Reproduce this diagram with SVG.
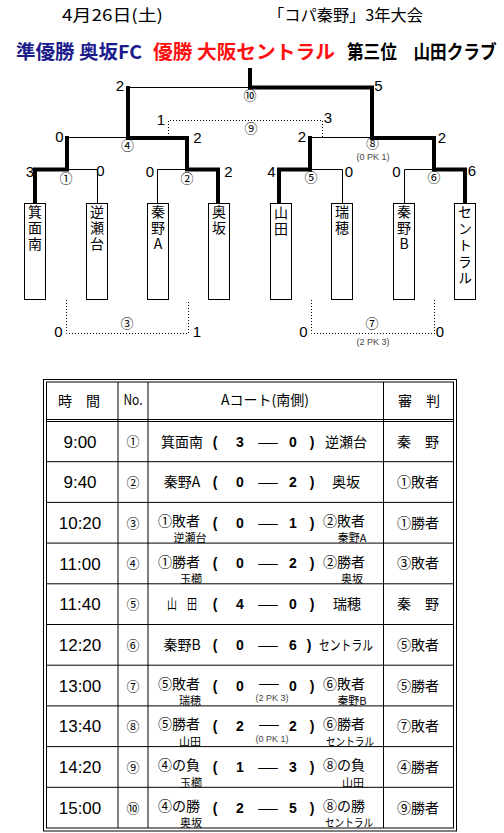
<svg xmlns="http://www.w3.org/2000/svg" width="504" height="833" viewBox="0 0 504 833">
<style>
.tk{fill:none;stroke:#000;stroke-width:4;stroke-linejoin:miter}
.tn{fill:none;stroke:#000;stroke-width:1}
.dt{fill:none;stroke:#000;stroke-width:1;stroke-dasharray:1 2}
.box{fill:#fff;stroke:#000;stroke-width:1}
.sc{font-family:"Liberation Sans Narrow","Liberation Sans",sans-serif;font-size:15px;text-anchor:middle;fill:#000}
.cn{font-family:"Noto Sans CJK JP",sans-serif;font-size:13px;text-anchor:middle;fill:#000}
.pk{font-family:"Liberation Sans Narrow","Liberation Sans",sans-serif;font-size:9px;text-anchor:middle;fill:#444}
.vt{font-family:"Noto Sans CJK JP",sans-serif;font-size:14px;fill:#000;writing-mode:vertical-rl;text-orientation:upright;letter-spacing:2px}
.ti{font-family:"Noto Sans CJK JP",sans-serif;font-size:16px;fill:#000}
.hd{font-family:"Noto Sans CJK JP",sans-serif;font-size:19px;font-weight:bold}
.tl{fill:none;stroke:#000;stroke-width:1}
.tm{font-family:"Liberation Sans",sans-serif;font-size:17px;text-anchor:middle;fill:#000}
.j{font-family:"Noto Sans CJK JP",sans-serif;font-size:14px;text-anchor:middle;fill:#000}
.s{font-family:"Noto Sans CJK JP",sans-serif;font-size:11px;text-anchor:middle;fill:#000}
.d{font-family:"Liberation Sans",sans-serif;font-size:14px;font-weight:bold;text-anchor:middle;fill:#000}
.no{font-family:"Noto Sans CJK JP",sans-serif;font-size:13px;text-anchor:middle;fill:#000}
</style>

<g id="title">
<text class="ti" x="62" y="21" textLength="101" lengthAdjust="spacingAndGlyphs">4月26日(土)</text>
<text class="ti" x="268" y="21" textLength="155" lengthAdjust="spacingAndGlyphs">「コパ秦野」3年大会</text>
<text class="hd" x="16" y="59" fill="#1c1c8c" textLength="126" lengthAdjust="spacingAndGlyphs">準優勝 奥坂FC</text>
<text class="hd" x="153" y="59" fill="#ff1010" textLength="182" lengthAdjust="spacingAndGlyphs">優勝 大阪セントラル</text>
<text class="hd" transform="translate(347,59) scale(0.875,1)" x="0" y="0" fill="#000">第三位　山田クラブ</text>
</g>

<g id="connectors">
<path class="tn" d="M128,87.5 H250"/>
<path class="tn" d="M67,137.5 H128"/>
<path class="tn" d="M310,137.5 H372"/>
<path class="tn" d="M67,169.5 H97.5 V203"/>
<path class="tn" d="M157.5,203 V169.5 H187"/>
<path class="tn" d="M310,169.5 H342.5 V203"/>
<path class="tn" d="M404.5,203 V169.5 H434"/>
<path class="tk" d="M250,68 V87.5 H372 V138 H434 V169.5 H465 V203"/>
<path class="tk" d="M128,86 V138 H187 V169.5 H218 V203"/>
<path class="tk" d="M35,203 V169.5 H67 V136"/>
<path class="tk" d="M279,203 V169.5 H310 V136"/>
<path class="dt" d="M168.5,137 V120.5 H322.5 V137"/>
<path class="dt" d="M66.5,300 V333.5 H188.5 V300"/>
<path class="dt" d="M311.5,300 V333.5 H434.5 V300"/>
</g>

<g id="match-labels">
<text class="cn" x="250" y="100">⑩</text>
<text class="cn" x="251" y="132.5">⑨</text>
<text class="cn" x="127.5" y="149.5">④</text>
<text class="cn" x="372.5" y="147.5">⑧</text>
<text class="pk" x="373" y="160">(0 PK 1)</text>
<text class="cn" x="66" y="182.5">①</text>
<text class="cn" x="187" y="182.5">②</text>
<text class="cn" x="311" y="181.5">⑤</text>
<text class="cn" x="434" y="181.5">⑥</text>
<text class="cn" x="127" y="327.5">③</text>
<text class="cn" x="372" y="327.5">⑦</text>
<text class="pk" x="373" y="345">(2 PK 3)</text>
</g>

<g id="scores">
<text class="sc" x="120" y="91">2</text>
<text class="sc" x="378.5" y="91">5</text>
<text class="sc" x="161" y="125">1</text>
<text class="sc" x="328" y="123">3</text>
<text class="sc" x="59.5" y="142">0</text>
<text class="sc" x="197.5" y="143">2</text>
<text class="sc" x="302" y="142">2</text>
<text class="sc" x="442" y="143">2</text>
<text class="sc" x="30" y="177">3</text>
<text class="sc" x="100.5" y="176">0</text>
<text class="sc" x="150" y="177">0</text>
<text class="sc" x="228.5" y="177">2</text>
<text class="sc" x="271.5" y="177">4</text>
<text class="sc" x="349" y="177">0</text>
<text class="sc" x="396.5" y="177">0</text>
<text class="sc" x="472" y="176">6</text>
<text class="sc" x="58.5" y="337">0</text>
<text class="sc" x="197" y="337">1</text>
<text class="sc" x="303.5" y="337">0</text>
<text class="sc" x="440" y="337">0</text>
</g>

<g id="team-minoominami">
<rect class="box" x="24.5" y="203.5" width="21" height="96"/>
<text class="vt" x="35" y="205">箕面南</text>
</g>
<g id="team-sakasedai">
<rect class="box" x="86.5" y="203.5" width="21" height="96"/>
<text class="vt" x="97" y="205">逆瀬台</text>
</g>
<g id="team-hatanoA">
<rect class="box" x="147.5" y="203.5" width="21" height="96"/>
<text class="vt" x="158" y="205">秦野A</text>
</g>
<g id="team-okusaka">
<rect class="box" x="208.5" y="203.5" width="21" height="96"/>
<text class="vt" x="219" y="205">奥坂</text>
</g>
<g id="team-yamada">
<rect class="box" x="270.5" y="203.5" width="21" height="96"/>
<text class="vt" x="281" y="206">山田</text>
</g>
<g id="team-mizuho">
<rect class="box" x="331.5" y="203.5" width="21" height="96"/>
<text class="vt" x="342" y="205">瑞穂</text>
</g>
<g id="team-hatanoB">
<rect class="box" x="393.5" y="203.5" width="21" height="96"/>
<text class="vt" x="404" y="205">秦野B</text>
</g>
<g id="team-central">
<rect class="box" x="454.5" y="203.5" width="21" height="96"/>
<text class="vt" x="465" y="205" style="letter-spacing:2.5px">セントラル</text>
</g>

<g id="schedule-table">
<rect class="tl" x="43.5" y="379.5" width="413" height="451.5"/>
<rect class="tl" x="46.5" y="382" width="407" height="446"/>
<path class="tl" d="M46.5,419.5 H453.5 M46.5,421.5 H453.5"/>
<path class="tl" d="M46.5,461.7 H453.5 M46.5,502.4 H453.5 M46.5,543.1 H453.5 M46.5,583.8 H453.5 M46.5,624.5 H453.5 M46.5,665.2 H453.5 M46.5,705.9 H453.5 M46.5,746.6 H453.5 M46.5,787.3 H453.5"/>
<path class="tl" d="M118,382 V828 M148,382 V828 M383.5,382 V828"/>

<text class="j" x="79" y="406" font-size="15">時　間</text>
<text class="j" x="133" y="405" font-size="11" textLength="19" lengthAdjust="spacingAndGlyphs">No.</text>
<text class="j" x="265" y="405">Aコート(南側)</text>
<text class="j" x="419" y="406" font-size="15">審　判</text>

<text class="tm" x="80" y="447.5">9:00</text>
<text class="tm" x="80" y="488">9:40</text>
<text class="tm" x="80" y="529">10:20</text>
<text class="tm" x="80" y="569.5">11:00</text>
<text class="tm" x="80" y="610">11:40</text>
<text class="tm" x="80" y="651">12:20</text>
<text class="tm" x="80" y="691.5">13:00</text>
<text class="tm" x="80" y="732">13:40</text>
<text class="tm" x="80" y="773">14:20</text>
<text class="tm" x="80" y="813.5">15:00</text>

<text class="no" x="133" y="446">①</text>
<text class="no" x="133" y="487">②</text>
<text class="no" x="133" y="527.5">③</text>
<text class="no" x="133" y="568">④</text>
<text class="no" x="133" y="609">⑤</text>
<text class="no" x="133" y="649.5">⑥</text>
<text class="no" x="133" y="690.5">⑦</text>
<text class="no" x="133" y="731">⑧</text>
<text class="no" x="133" y="772">⑨</text>
<text class="no" x="133" y="812.5">⑩</text>

<!-- row 1 -->
<text class="j" x="182" y="446.5">箕面南</text>
<text class="d" x="215" y="446.5">(</text><text class="d" x="240" y="446.5">3</text>
<text class="j" x="268" y="446.5" textLength="22" lengthAdjust="spacingAndGlyphs">—</text>
<text class="d" x="293" y="446.5">0</text><text class="d" x="312" y="446.5">)</text>
<text class="j" x="346" y="446.5">逆瀬台</text>
<text class="j" x="418" y="446.5">秦　野</text>
<!-- row 2 -->
<text class="j" x="182" y="487">秦野A</text>
<text class="d" x="215" y="487">(</text><text class="d" x="240" y="487">0</text>
<text class="j" x="268" y="487" textLength="22" lengthAdjust="spacingAndGlyphs">—</text>
<text class="d" x="293" y="487">2</text><text class="d" x="312" y="487">)</text>
<text class="j" x="346" y="487">奥坂</text>
<text class="j" x="418" y="487">①敗者</text>
<!-- row 3 -->
<text class="j" x="179" y="526">①敗者</text>
<text class="s" x="190" y="542">逆瀬台</text>
<text class="d" x="215" y="527.5">(</text><text class="d" x="240" y="527.5">0</text>
<text class="j" x="268" y="527.5" textLength="22" lengthAdjust="spacingAndGlyphs">—</text>
<text class="d" x="293" y="527.5">1</text><text class="d" x="312" y="527.5">)</text>
<text class="j" x="344" y="526">②敗者</text>
<text class="s" x="352" y="542">秦野A</text>
<text class="j" x="418" y="527.5">①勝者</text>
<!-- row 4 -->
<text class="j" x="179" y="566.5">①勝者</text>
<text class="s" x="191" y="582.5">玉櫛</text>
<text class="d" x="215" y="568">(</text><text class="d" x="240" y="568">0</text>
<text class="j" x="268" y="568" textLength="22" lengthAdjust="spacingAndGlyphs">—</text>
<text class="d" x="293" y="568">2</text><text class="d" x="312" y="568">)</text>
<text class="j" x="344" y="566.5">②勝者</text>
<text class="s" x="352" y="582.5">奥坂</text>
<text class="j" x="418" y="568">③敗者</text>
<!-- row 5 -->
<text class="j" x="182" y="609" textLength="30" lengthAdjust="spacingAndGlyphs">山　田</text>
<text class="d" x="215" y="609">(</text><text class="d" x="240" y="609">4</text>
<text class="j" x="268" y="609" textLength="22" lengthAdjust="spacingAndGlyphs">—</text>
<text class="d" x="293" y="609">0</text><text class="d" x="312" y="609">)</text>
<text class="j" x="347" y="609">瑞穂</text>
<text class="j" x="418" y="609">秦　野</text>
<!-- row 6 -->
<text class="j" x="182" y="650">秦野B</text>
<text class="d" x="215" y="650">(</text><text class="d" x="240" y="650">0</text>
<text class="j" x="268" y="650" textLength="22" lengthAdjust="spacingAndGlyphs">—</text>
<text class="d" x="293" y="650">6</text><text class="d" x="309" y="650">)</text>
<text class="j" x="319" y="650" style="text-anchor:start" textLength="54" lengthAdjust="spacingAndGlyphs">セントラル</text>
<text class="j" x="418" y="650">⑤敗者</text>
<!-- row 7 -->
<text class="j" x="179" y="688.5">⑤敗者</text>
<text class="s" x="190" y="704.5">瑞穂</text>
<text class="d" x="215" y="690.5">(</text><text class="d" x="240" y="690.5">0</text>
<text class="j" x="269" y="688" textLength="22" lengthAdjust="spacingAndGlyphs">—</text>
<text class="d" x="293" y="690.5">0</text><text class="d" x="312" y="690.5">)</text>
<text class="pk" x="272" y="701">(2 PK 3)</text>
<text class="j" x="344" y="688.5">⑥敗者</text>
<text class="s" x="352" y="704.5">秦野B</text>
<text class="j" x="418" y="690.5">⑤勝者</text>
<!-- row 8 -->
<text class="j" x="179" y="729">⑤勝者</text>
<text class="s" x="190" y="745.5">山田</text>
<text class="d" x="215" y="731">(</text><text class="d" x="240" y="731">2</text>
<text class="j" x="269" y="728.5" textLength="22" lengthAdjust="spacingAndGlyphs">—</text>
<text class="d" x="293" y="731">2</text><text class="d" x="312" y="731">)</text>
<text class="pk" x="272" y="741.5">(0 PK 1)</text>
<text class="j" x="344" y="729">⑥勝者</text>
<text class="s" x="350" y="745.5" textLength="48" lengthAdjust="spacingAndGlyphs">セントラル</text>
<text class="j" x="418" y="731">⑦敗者</text>
<!-- row 9 -->
<text class="j" x="179" y="770">④の負</text>
<text class="s" x="191" y="786.5">玉櫛</text>
<text class="d" x="215" y="772">(</text><text class="d" x="240" y="772">1</text>
<text class="j" x="268" y="772" textLength="22" lengthAdjust="spacingAndGlyphs">—</text>
<text class="d" x="293" y="772">3</text><text class="d" x="312" y="772">)</text>
<text class="j" x="344" y="770">⑧の負</text>
<text class="s" x="353" y="786.5">山田</text>
<text class="j" x="418" y="772">④勝者</text>
<!-- row 10 -->
<text class="j" x="179" y="810.5">④の勝</text>
<text class="s" x="191" y="827">奥坂</text>
<text class="d" x="215" y="812.5">(</text><text class="d" x="240" y="812.5">2</text>
<text class="j" x="268" y="812.5" textLength="22" lengthAdjust="spacingAndGlyphs">—</text>
<text class="d" x="293" y="812.5">5</text><text class="d" x="312" y="812.5">)</text>
<text class="j" x="344" y="810.5">⑧の勝</text>
<text class="s" x="349" y="827" textLength="48" lengthAdjust="spacingAndGlyphs">セントラル</text>
<text class="j" x="418" y="812.5">⑨勝者</text>
</g>
</svg>
